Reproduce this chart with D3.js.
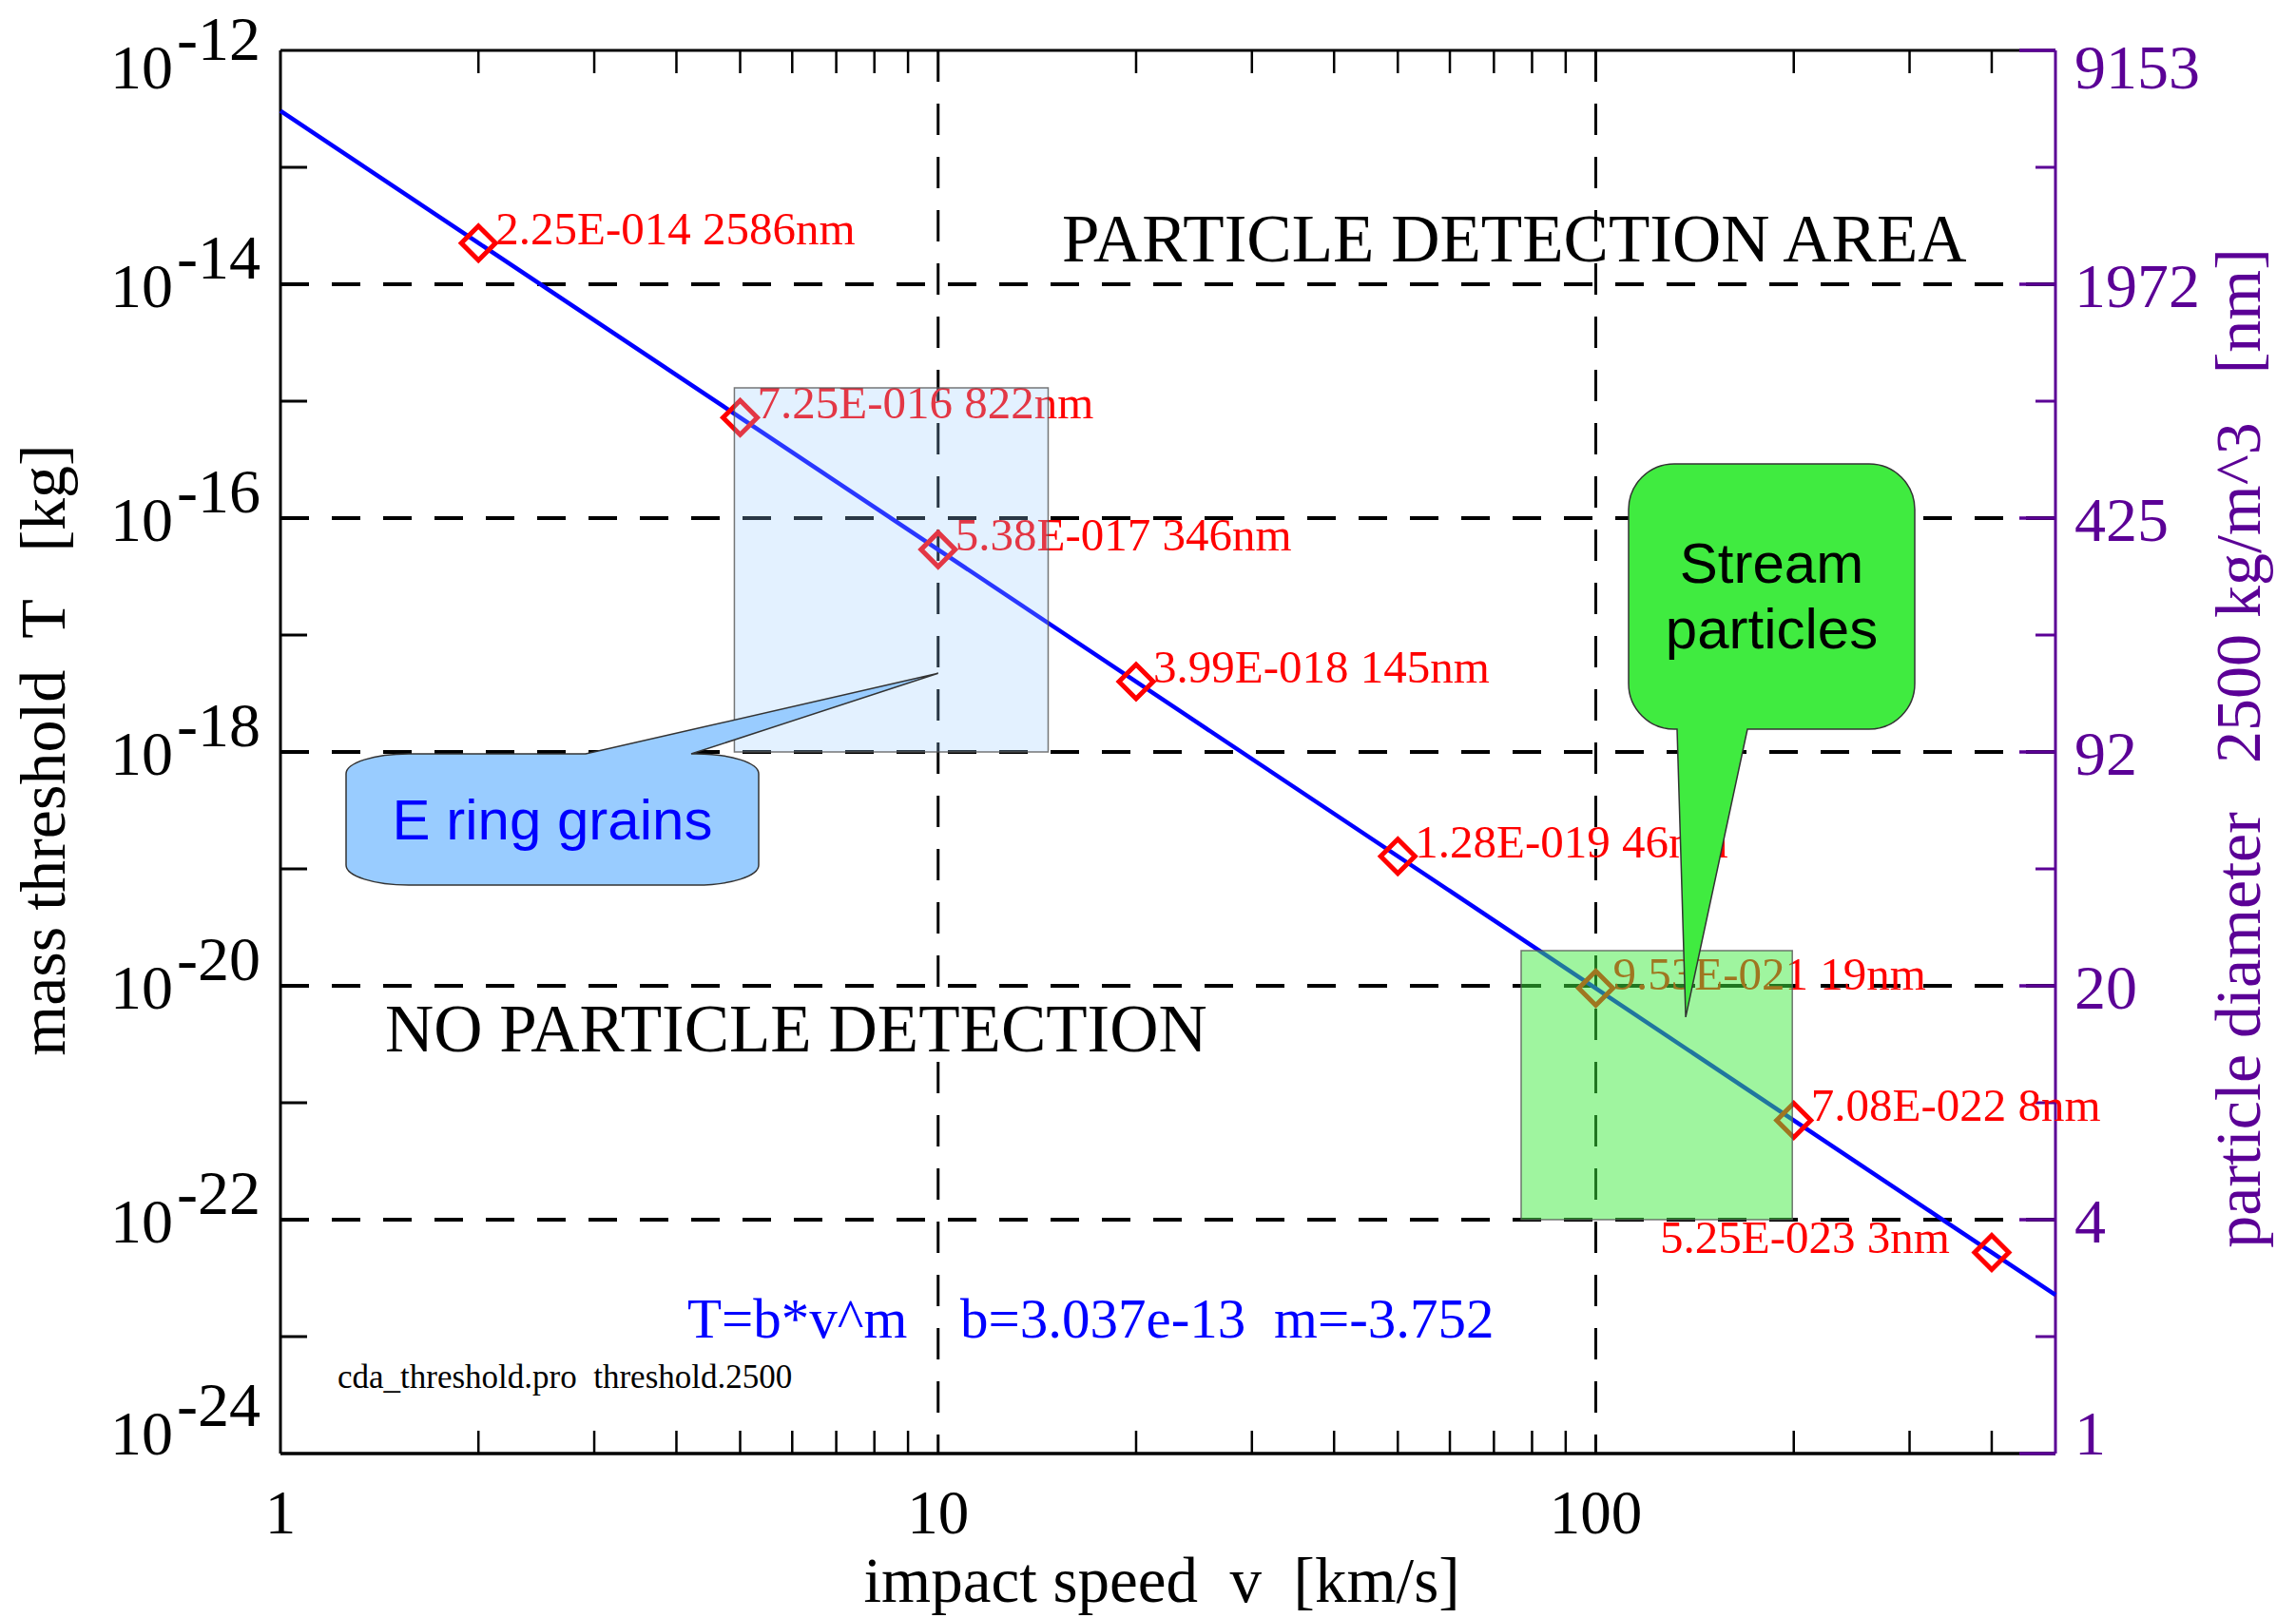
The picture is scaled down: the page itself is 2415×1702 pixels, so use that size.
<!DOCTYPE html>
<html>
<head>
<meta charset="utf-8">
<script src="https://cdn.jsdelivr.net/npm/d3@7"></script>
<style>
  html, body { margin: 0; padding: 0; background: #fff; }
  svg { display: block; }
  text { white-space: pre; }
</style>
</head>
<body>
<div id="chart"></div>
<script>
// Impact speeds (km/s), mass thresholds (kg) and matching particle diameters (nm)
const speeds = [2, 5, 10, 20, 50, 100, 200, 400];
const thresholds = [2.25e-14, 7.25e-16, 5.38e-17, 3.99e-18, 1.28e-19, 9.53e-21, 7.08e-22, 5.25e-23];
const diameters = [2586, 822, 346, 145, 46, 19, 8, 3];

// Power-law fit T = b * v^m, with its values at both ends of the speed range
const fitB = "3.037e-13";
const fitM = "-3.752";
const fitSpeeds = [1, 500];
const fitThresholds = [3.037e-13, 2.27e-23];

// Labelled decades of the mass axis and the diameters they correspond to (2500 kg/m^3)
const massExponents = [-12, -14, -16, -18, -20, -22, -24];
const diameterLabels = ["9153", "1972", "425", "92", "20", "4", "1"];
const speedLabels = [1, 10, 100];

// Regions of interest: speed range (km/s) and mass range (kg)
const eRingRange = { v: [4.9, 14.7], T: [1e-18, 1.3e-15] };
const streamRange = { v: [77, 199], T: [1e-22, 2e-20] };
// Points the callouts aim at
const eRingTarget = { v: 10, T: 4.7e-18 };
const streamTarget = { v: 137, T: 5.4e-21 };

const W = 2415, H = 1702;
const plot = { left: 295, right: 2162, top: 53, bottom: 1529 };
const serif = "'Liberation Serif', 'Times New Roman', serif";
const sans = "'Liberation Sans', Arial, sans-serif";
const purple = "#5b0096";

const svg = d3.select("#chart").append("svg")
  .attr("width", W).attr("height", H)
  .attr("viewBox", `0 0 ${W} ${H}`);
svg.append("rect").attr("width", W).attr("height", H).attr("fill", "#fff");

const x = d3.scaleLog().domain([1, 500]).range([plot.left, plot.right]);
const y = d3.scaleLog().domain([1e-24, 1e-12]).range([plot.bottom, plot.top]);

const isDecade = v => Math.abs(Math.log10(v) - Math.round(Math.log10(v))) < 1e-9;

// ---- dashed grid at 10, 100 km/s and every second mass decade
const grid = svg.append("g").attr("stroke", "#000").attr("fill", "none");
speedLabels.filter(v => v > 1).forEach(v => {
  grid.append("line")
    .attr("x1", x(v)).attr("x2", x(v))
    .attr("y1", plot.top).attr("y2", plot.bottom)
    .attr("stroke-width", 3).attr("stroke-dasharray", "33,23");
});
massExponents.slice(1, -1).forEach(e => {
  grid.append("line")
    .attr("x1", plot.left).attr("x2", plot.right)
    .attr("y1", y(Math.pow(10, e))).attr("y2", y(Math.pow(10, e)))
    .attr("stroke-width", 4).attr("stroke-dasharray", "30,24");
});

// ---- frame and minor ticks
const axes = svg.append("g").attr("fill", "none");
const minorSpeeds = x.ticks().filter(v => !isDecade(v) && v < 500);
minorSpeeds.forEach(v => {
  axes.append("line").attr("stroke", "#000").attr("stroke-width", 2.5)
    .attr("x1", x(v)).attr("x2", x(v))
    .attr("y1", plot.bottom).attr("y2", plot.bottom - 24);
  axes.append("line").attr("stroke", "#000").attr("stroke-width", 2.5)
    .attr("x1", x(v)).attr("x2", x(v))
    .attr("y1", plot.top).attr("y2", plot.top + 24);
});
const oddExponents = d3.range(-13, -24, -2);
oddExponents.forEach(e => {
  const yy = y(Math.pow(10, e));
  axes.append("line").attr("stroke", "#000").attr("stroke-width", 3)
    .attr("x1", plot.left).attr("x2", plot.left + 28).attr("y1", yy).attr("y2", yy);
  axes.append("line").attr("stroke", purple).attr("stroke-width", 3)
    .attr("x1", plot.right).attr("x2", plot.right - 21).attr("y1", yy).attr("y2", yy);
});
axes.append("line").attr("stroke", "#000").attr("stroke-width", 3)
  .attr("x1", plot.left).attr("x2", plot.right).attr("y1", plot.top).attr("y2", plot.top);
axes.append("line").attr("stroke", "#000").attr("stroke-width", 3.5)
  .attr("x1", plot.left).attr("x2", plot.right).attr("y1", plot.bottom).attr("y2", plot.bottom);
axes.append("line").attr("stroke", "#000").attr("stroke-width", 3)
  .attr("x1", plot.left).attr("x2", plot.left).attr("y1", plot.top).attr("y2", plot.bottom);
massExponents.forEach(e => {
  const yy = y(Math.pow(10, e));
  axes.append("line").attr("stroke", purple).attr("stroke-width", 3.5)
    .attr("x1", plot.right).attr("x2", plot.right - 38).attr("y1", yy).attr("y2", yy);
});
axes.append("line").attr("stroke", purple).attr("stroke-width", 3)
  .attr("x1", plot.right).attr("x2", plot.right).attr("y1", plot.top).attr("y2", plot.bottom);

// ---- tick labels
const labelBaseline = e => Math.min(Math.max(y(Math.pow(10, e)) + 24, plot.top + 40), plot.bottom + 1);
const left = svg.append("g").attr("font-family", serif).attr("font-size", 66).attr("fill", "#000");
massExponents.forEach(e => {
  const t = left.append("text").attr("x", 274).attr("y", labelBaseline(e)).attr("text-anchor", "end");
  t.append("tspan").text("10");
  t.append("tspan").attr("dx", 4).attr("dy", -30).text("-" + String(-e));
});
const right = svg.append("g").attr("font-family", serif).attr("font-size", 66).attr("fill", purple);
massExponents.forEach((e, i) => {
  right.append("text").attr("x", 2182).attr("y", labelBaseline(e)).text(diameterLabels[i]);
});
const bottom = svg.append("g").attr("font-family", serif).attr("font-size", 65).attr("fill", "#000");
speedLabels.forEach(v => {
  bottom.append("text").attr("x", x(v)).attr("y", 1613).attr("text-anchor", "middle").text(String(v));
});

// ---- axis titles
svg.append("text").attr("font-family", serif).attr("font-size", 67)
  .attr("x", 1222).attr("y", 1685).attr("text-anchor", "middle")
  .text("impact speed  v  [km/s]");
svg.append("text").attr("font-family", serif).attr("font-size", 68)
  .attr("text-anchor", "middle").attr("transform", "translate(68,789) rotate(-90)")
  .text("mass threshold  T   [kg]");
svg.append("text").attr("font-family", serif).attr("font-size", 68).attr("fill", purple)
  .attr("text-anchor", "middle").attr("transform", "translate(2377,787) rotate(-90)")
  .text("particle diameter   2500 kg/m^3   [nm]");

// ---- fitted threshold line
const line = d3.line().x(d => x(d[0])).y(d => y(d[1]));
svg.append("path")
  .datum(d3.zip(fitSpeeds, fitThresholds))
  .attr("d", line).attr("fill", "none").attr("stroke", "#0000ff").attr("stroke-width", 4.5);

// ---- data points and their labels
const fmtE = t => {
  const [m, e] = t.toExponential(2).split("e");
  const n = +e;
  return m + "E" + (n < 0 ? "-" : "+") + String(Math.abs(n)).padStart(3, "0");
};
const pts = svg.append("g");
speeds.forEach((v, i) => {
  const cx = x(v), cy = y(thresholds[i]), r = 18;
  pts.append("path")
    .attr("d", `M${cx},${cy - r}L${cx + r},${cy}L${cx},${cy + r}L${cx - r},${cy}Z`)
    .attr("fill", "none").attr("stroke", "#ff0000").attr("stroke-width", 5);
  const last = i === speeds.length - 1;
  pts.append("text")
    .attr("font-family", serif).attr("font-size", 49).attr("fill", "#ff0000")
    .attr("x", last ? cx - 44 : cx + 18).attr("y", cy + 1)
    .attr("text-anchor", last ? "end" : "start")
    .text(`${fmtE(thresholds[i])} ${diameters[i]}nm`);
});

// ---- annotations
svg.append("text").attr("font-family", serif).attr("font-size", 71)
  .attr("x", 1117).attr("y", 275).text("PARTICLE DETECTION AREA");
svg.append("text").attr("font-family", serif).attr("font-size", 71)
  .attr("x", 405).attr("y", 1106).text("NO PARTICLE DETECTION");
const formula = svg.append("g").attr("font-family", serif).attr("font-size", 59).attr("fill", "#0000ff");
formula.append("text").attr("x", 723).attr("y", 1407).text("T=b*v^m");
formula.append("text").attr("x", 1010).attr("y", 1407).text("b=" + fitB);
formula.append("text").attr("x", 1340).attr("y", 1407).text("m=" + fitM);
svg.append("text").attr("font-family", serif).attr("font-size", 35)
  .attr("x", 355).attr("y", 1460).text("cda_threshold.pro  threshold.2500");

// ---- translucent regions
const region = (rg, fill, opacity) => {
  svg.append("rect")
    .attr("x", x(rg.v[0])).attr("y", y(rg.T[1]))
    .attr("width", x(rg.v[1]) - x(rg.v[0])).attr("height", y(rg.T[0]) - y(rg.T[1]))
    .attr("fill", fill).attr("fill-opacity", opacity)
    .attr("stroke", "#555").attr("stroke-opacity", 0.8).attr("stroke-width", 1.5);
};
region(eRingRange, "#99ccff", 0.27);
region(streamRange, "#40eb40", 0.5);

// ---- callouts
function calloutTop(b, rx, ry, bx0, bx1, tx, ty) {
  const { x0, y0, x1, y1 } = b;
  return `M${x0 + rx},${y0}L${bx0},${y0}L${tx},${ty}L${bx1},${y0}L${x1 - rx},${y0}` +
    `A${rx},${ry} 0 0 1 ${x1},${y0 + ry}L${x1},${y1 - ry}` +
    `A${rx},${ry} 0 0 1 ${x1 - rx},${y1}L${x0 + rx},${y1}` +
    `A${rx},${ry} 0 0 1 ${x0},${y1 - ry}L${x0},${y0 + ry}` +
    `A${rx},${ry} 0 0 1 ${x0 + rx},${y0}Z`;
}
function calloutBottom(b, r, bx0, bx1, tx, ty) {
  const { x0, y0, x1, y1 } = b;
  return `M${x0 + r},${y0}L${x1 - r},${y0}A${r},${r} 0 0 1 ${x1},${y0 + r}` +
    `L${x1},${y1 - r}A${r},${r} 0 0 1 ${x1 - r},${y1}` +
    `L${bx1},${y1}L${tx},${ty}L${bx0},${y1}L${x0 + r},${y1}` +
    `A${r},${r} 0 0 1 ${x0},${y1 - r}L${x0},${y0 + r}A${r},${r} 0 0 1 ${x0 + r},${y0}Z`;
}

const eBox = { x0: 364, y0: 793, x1: 798, y1: 931 };
svg.append("path")
  .attr("d", calloutTop(eBox, 66, 21, 616, 727, x(eRingTarget.v), y(eRingTarget.T)))
  .attr("fill", "#99ccff").attr("stroke", "#333").attr("stroke-width", 1.5);
svg.append("text").attr("font-family", sans).attr("font-size", 60).attr("fill", "#0000ff")
  .attr("x", (eBox.x0 + eBox.x1) / 2).attr("y", 883).attr("text-anchor", "middle")
  .text("E ring grains");

const sBox = { x0: 1713, y0: 488, x1: 2014, y1: 767 };
svg.append("path")
  .attr("d", calloutBottom(sBox, 48, 1764, 1838, x(streamTarget.v), y(streamTarget.T)))
  .attr("fill", "#40eb40").attr("stroke", "#333").attr("stroke-width", 1.5);
const st = svg.append("g").attr("font-family", sans).attr("font-size", 60).attr("fill", "#000")
  .attr("text-anchor", "middle");
st.append("text").attr("x", (sBox.x0 + sBox.x1) / 2).attr("y", 613).text("Stream");
st.append("text").attr("x", (sBox.x0 + sBox.x1) / 2).attr("y", 682).text("particles");
</script>
</body>
</html>
